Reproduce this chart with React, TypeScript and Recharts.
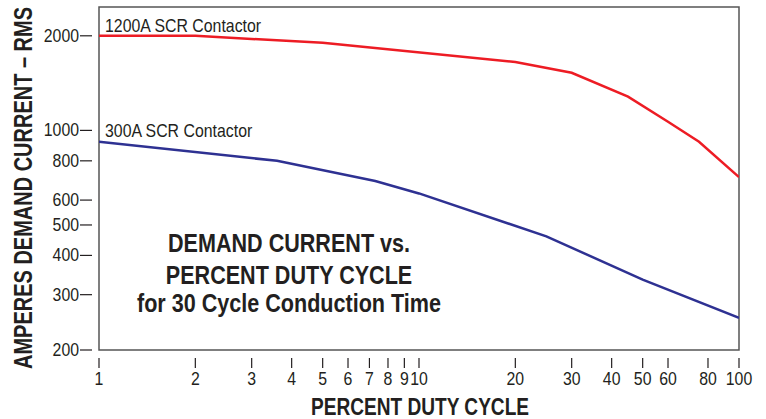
import { LineChart, Line, XAxis, YAxis, ReferenceArea, Label } from 'recharts';

const dutyTicks = [1, 2, 3, 4, 5, 6, 7, 8, 9, 10, 20, 30, 40, 50, 60, 80, 100];
const ampTicks = [200, 300, 400, 500, 600, 800, 1000, 2000];

const duty1200 = [1, 2, 5, 20, 30, 45, 60, 75, 100];
const amps1200 = [2000, 2000, 1900, 1650, 1525, 1280, 1065, 920, 710];

const duty300 = [1, 3.6, 7.3, 10, 25, 50, 100];
const amps300 = [920, 800, 690, 630, 460, 335, 253];

const data1200 = duty1200.map((x, i) => ({ x, y: amps1200[i] }));
const data300 = duty300.map((x, i) => ({ x, y: amps300[i] }));

const FONT = "'Liberation Sans', Arial, sans-serif";
const INK = '#231f20';

// no narrow font installed, so squeeze the regular one horizontally
const NText = ({ x, y, size, sx = 0.85, anchor = 'start', bold = false, rotate = 0, children }: any) => (
  <text
    transform={`translate(${x},${y}) rotate(${rotate}) scale(${sx},1)`}
    textAnchor={anchor}
    fontFamily={FONT}
    fontSize={size}
    fontWeight={bold ? 'bold' : 'normal'}
    fill={INK}
  >
    {children}
  </text>
);

const YTick = (props: any) => {
  const { x, y, payload } = props;
  return (
    <g>
      <line x1={x - 19} x2={x - 7} y1={y} y2={y} stroke={INK} strokeWidth={1.2} />
      <NText x={x - 20} y={y + 6} size={18} sx={0.88} anchor="end">
        {payload.value}
      </NText>
    </g>
  );
};

const XTick = (props: any) => {
  const { x, y, payload } = props;
  return (
    <g>
      <line x1={x} x2={x} y1={y + 8} y2={y + 18} stroke={INK} strokeWidth={1.2} />
      <NText x={x} y={y + 35} size={18} sx={0.88} anchor="middle">
        {payload.value}
      </NText>
    </g>
  );
};

export default function App() {
  return (
    <div style={{ position: 'absolute', left: 0, top: 0, background: '#fff' }}>
      <LineChart width={766} height={419} margin={{ top: 7, right: 27, bottom: 0, left: 0 }}>
        <XAxis
          dataKey="x"
          type="number"
          scale="log"
          domain={[1, 100]}
          ticks={dutyTicks}
          interval={0}
          axisLine={false}
          tickLine={false}
          tickSize={0}
          tickMargin={0}
          height={69}
          tick={<XTick />}
          allowDataOverflow
        >
          <Label
            content={() => (
              <NText x={420} y={415} size={23} sx={0.83} anchor="middle" bold>
                PERCENT DUTY CYCLE
              </NText>
            )}
          />
        </XAxis>
        <YAxis
          dataKey="y"
          type="number"
          scale="log"
          domain={[200, 2470]}
          ticks={ampTicks}
          interval={0}
          axisLine={false}
          tickLine={false}
          tickSize={0}
          tickMargin={0}
          width={99}
          tick={<YTick />}
          allowDataOverflow
        >
          <Label
            content={() => (
              <NText x={32} y={188} size={25} sx={0.8} anchor="middle" bold rotate={-90}>
                AMPERES DEMAND CURRENT – RMS
              </NText>
            )}
          />
        </YAxis>
        <ReferenceArea x1={1} x2={100} y1={200} y2={2470} fill="none" stroke="#555" strokeWidth={1.5} ifOverflow="visible" />
        <Line
          data={data1200}
          dataKey="y"
          stroke="#ed1c24"
          strokeWidth={2.5}
          dot={false}
          isAnimationActive={false}
        />
        <Line
          data={data300}
          dataKey="y"
          stroke="#2e3192"
          strokeWidth={2.5}
          dot={false}
          isAnimationActive={false}
        />
        <NText x={105} y={32} size={19} sx={0.835}>1200A SCR Contactor</NText>
        <NText x={105} y={137} size={19} sx={0.835}>300A SCR Contactor</NText>
        <NText x={289} y={252} size={26} sx={0.83} anchor="middle" bold>DEMAND CURRENT vs.</NText>
        <NText x={289} y={284} size={26} sx={0.83} anchor="middle" bold>PERCENT DUTY CYCLE</NText>
        <NText x={289} y={312} size={26} sx={0.83} anchor="middle" bold>for 30 Cycle Conduction Time</NText>
      </LineChart>
    </div>
  );
}
